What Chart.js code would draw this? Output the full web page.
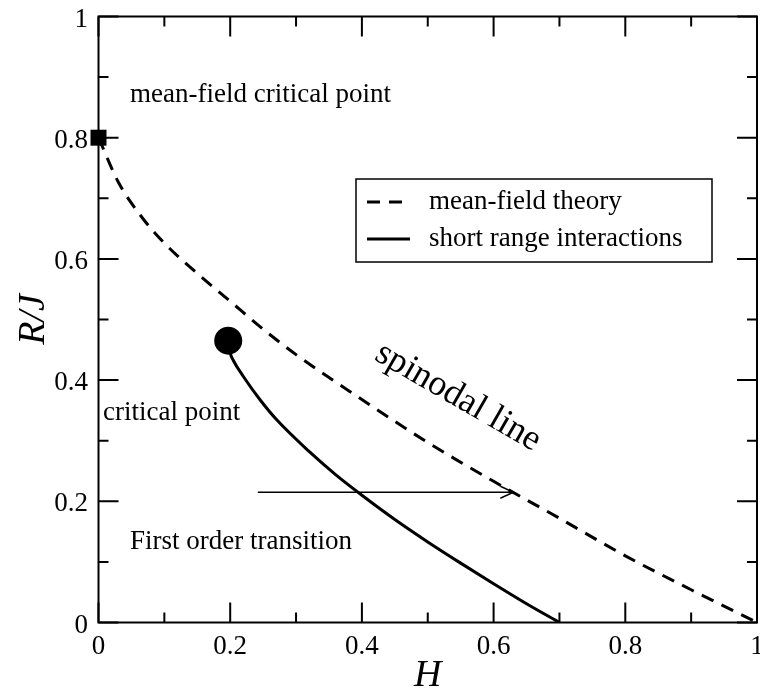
<!DOCTYPE html>
<html>
<head>
<meta charset="utf-8">
<script src="https://cdn.jsdelivr.net/npm/chart.js@4.4.1/dist/chart.umd.min.js"></script>
<style>
  html, body { margin: 0; padding: 0; background: #fff; }
</style>
</head>
<body>
<canvas id="phase" width="760" height="694"></canvas>
<script>
// mean-field spinodal line R/J(H)
var spinodalH = [0, 0.03, 0.065, 0.1, 0.15, 0.2, 0.25, 0.3, 0.4, 0.5, 0.6, 0.7, 0.8, 0.9, 1.0];
var spinodalR = [0.8, 0.727, 0.670, 0.626, 0.576, 0.530, 0.484, 0.442, 0.368, 0.297, 0.233, 0.172, 0.110, 0.054, 0.0];

// first order transition line, short range interactions
var transH = [0.197, 0.2, 0.205, 0.22, 0.245, 0.271, 0.321, 0.36, 0.4, 0.45, 0.5, 0.55, 0.6, 0.65, 0.7];
var transR = [0.465, 0.445, 0.432, 0.406, 0.368, 0.334, 0.281, 0.244, 0.210, 0.170, 0.133, 0.098, 0.064, 0.031, 0.0];

// critical points
var mfCritical = { H: 0, R: 0.8 };
var srCritical = { H: 0.197, R: 0.465 };

// arrow from the transition line towards the spinodal
var arrowH = [0.242, 0.63];
var arrowR = 0.215;

var majorTicks = [0, 0.2, 0.4, 0.6, 0.8, 1];
var minorTicks = [0.1, 0.3, 0.5, 0.7, 0.9];
var tickLabels = ['0', '0.2', '0.4', '0.6', '0.8', '1'];

var SERIF = '"Liberation Serif", "DejaVu Serif", serif';

function toPoints(xs, ys) {
  return xs.map(function (x, i) { return { x: x, y: ys[i] }; });
}

// frame, inward ticks on all four sides, tick labels, axis titles
var framePlugin = {
  id: 'frame',
  afterDatasetsDraw: function (chart) {
    var ctx = chart.ctx;
    var a = chart.chartArea;
    var xs = chart.scales.x, ys = chart.scales.y;
    ctx.save();
    ctx.strokeStyle = '#000';
    ctx.lineWidth = 2;
    ctx.strokeRect(a.left, a.top, a.right - a.left, a.bottom - a.top);

    function ticks(list, len) {
      list.forEach(function (v) {
        var px = xs.getPixelForValue(v), py = ys.getPixelForValue(v);
        ctx.beginPath();
        ctx.moveTo(px, a.bottom); ctx.lineTo(px, a.bottom - len);
        ctx.moveTo(px, a.top); ctx.lineTo(px, a.top + len);
        ctx.moveTo(a.left, py); ctx.lineTo(a.left + len, py);
        ctx.moveTo(a.right, py); ctx.lineTo(a.right - len, py);
        ctx.stroke();
      });
    }
    ticks(majorTicks, 20);
    ticks(minorTicks, 10);

    ctx.fillStyle = '#000';
    ctx.font = '27px ' + SERIF;
    ctx.textBaseline = 'alphabetic';
    majorTicks.forEach(function (v, i) {
      ctx.textAlign = 'center';
      ctx.fillText(tickLabels[i], xs.getPixelForValue(v), 654);
      ctx.textAlign = 'right';
      ctx.fillText(tickLabels[i], 88, ys.getPixelForValue(v) + 10);
    });

    ctx.font = 'italic 38px ' + SERIF;
    ctx.textAlign = 'center';
    ctx.fillText('H', (a.left + a.right) / 2, 686);
    ctx.save();
    ctx.translate(44, (a.top + a.bottom) / 2);
    ctx.rotate(-Math.PI / 2);
    ctx.fillText('R/J', 0, 0);
    ctx.restore();
    ctx.restore();
  }
};

// legend box, labels and the arrow
var notesPlugin = {
  id: 'notes',
  afterDraw: function (chart) {
    var ctx = chart.ctx;
    var xs = chart.scales.x, ys = chart.scales.y;
    ctx.save();
    ctx.fillStyle = '#000';
    ctx.strokeStyle = '#000';

    // legend
    ctx.lineWidth = 1.5;
    ctx.strokeRect(356, 179, 356, 83);
    ctx.lineWidth = 3;
    ctx.setLineDash([13, 9]);
    ctx.beginPath(); ctx.moveTo(367, 202); ctx.lineTo(410, 202); ctx.stroke();
    ctx.setLineDash([]);
    ctx.beginPath(); ctx.moveTo(367, 239); ctx.lineTo(410, 239); ctx.stroke();
    ctx.font = '27px ' + SERIF;
    ctx.textAlign = 'left';
    ctx.textBaseline = 'alphabetic';
    ctx.fillText('mean-field theory', 429, 209);
    ctx.fillText('short range interactions', 429, 246);

    // annotations
    ctx.fillText('mean-field critical point', 130, 102);
    ctx.fillText('critical point', 103, 420);
    ctx.fillText('First order transition', 130, 549);

    ctx.save();
    ctx.font = '36px ' + SERIF;
    ctx.textAlign = 'center';
    ctx.textBaseline = 'middle';
    ctx.translate(458, 397);
    ctx.rotate(30 * Math.PI / 180);
    ctx.fillText('spinodal line', 0, 0);
    ctx.restore();

    // arrow
    var x0 = xs.getPixelForValue(arrowH[0]);
    var x1 = xs.getPixelForValue(arrowH[1]);
    var y = ys.getPixelForValue(arrowR);
    ctx.lineWidth = 1.5;
    ctx.beginPath();
    ctx.moveTo(x0, y); ctx.lineTo(x1, y);
    ctx.moveTo(x1 - 13, y - 6); ctx.lineTo(x1, y); ctx.lineTo(x1 - 13, y + 6);
    ctx.stroke();
    ctx.restore();
  }
};

new Chart(document.getElementById('phase').getContext('2d'), {
  type: 'scatter',
  data: {
    datasets: [{
      label: 'mean-field theory',
      data: toPoints(spinodalH, spinodalR),
      showLine: true,
      borderColor: '#000',
      borderWidth: 3,
      borderDash: [13, 9],
      pointRadius: 0,
      cubicInterpolationMode: 'monotone'
    }, {
      label: 'short range interactions',
      data: toPoints(transH, transR),
      showLine: true,
      borderColor: '#000',
      borderWidth: 3,
      pointRadius: 0,
      cubicInterpolationMode: 'monotone'
    }, {
      label: 'mean-field critical point',
      data: [{ x: mfCritical.H, y: mfCritical.R }],
      pointStyle: 'rect',
      pointRadius: 11.3,
      backgroundColor: '#000',
      borderColor: '#000',
      borderWidth: 0,
      clip: false
    }, {
      label: 'critical point',
      data: [{ x: srCritical.H, y: srCritical.R }],
      pointStyle: 'circle',
      pointRadius: 14,
      backgroundColor: '#000',
      borderColor: '#000',
      borderWidth: 0,
      clip: false
    }]
  },
  options: {
    responsive: false,
    animation: false,
    devicePixelRatio: 1,
    layout: {
      autoPadding: false,
      padding: { left: 98.5, right: 3, top: 16.5, bottom: 71.5 }
    },
    scales: {
      x: { type: 'linear', min: 0, max: 1, display: false },
      y: { type: 'linear', min: 0, max: 1, display: false }
    },
    plugins: {
      legend: { display: false },
      tooltip: { enabled: false }
    }
  },
  plugins: [framePlugin, notesPlugin]
});
</script>
</body>
</html>
